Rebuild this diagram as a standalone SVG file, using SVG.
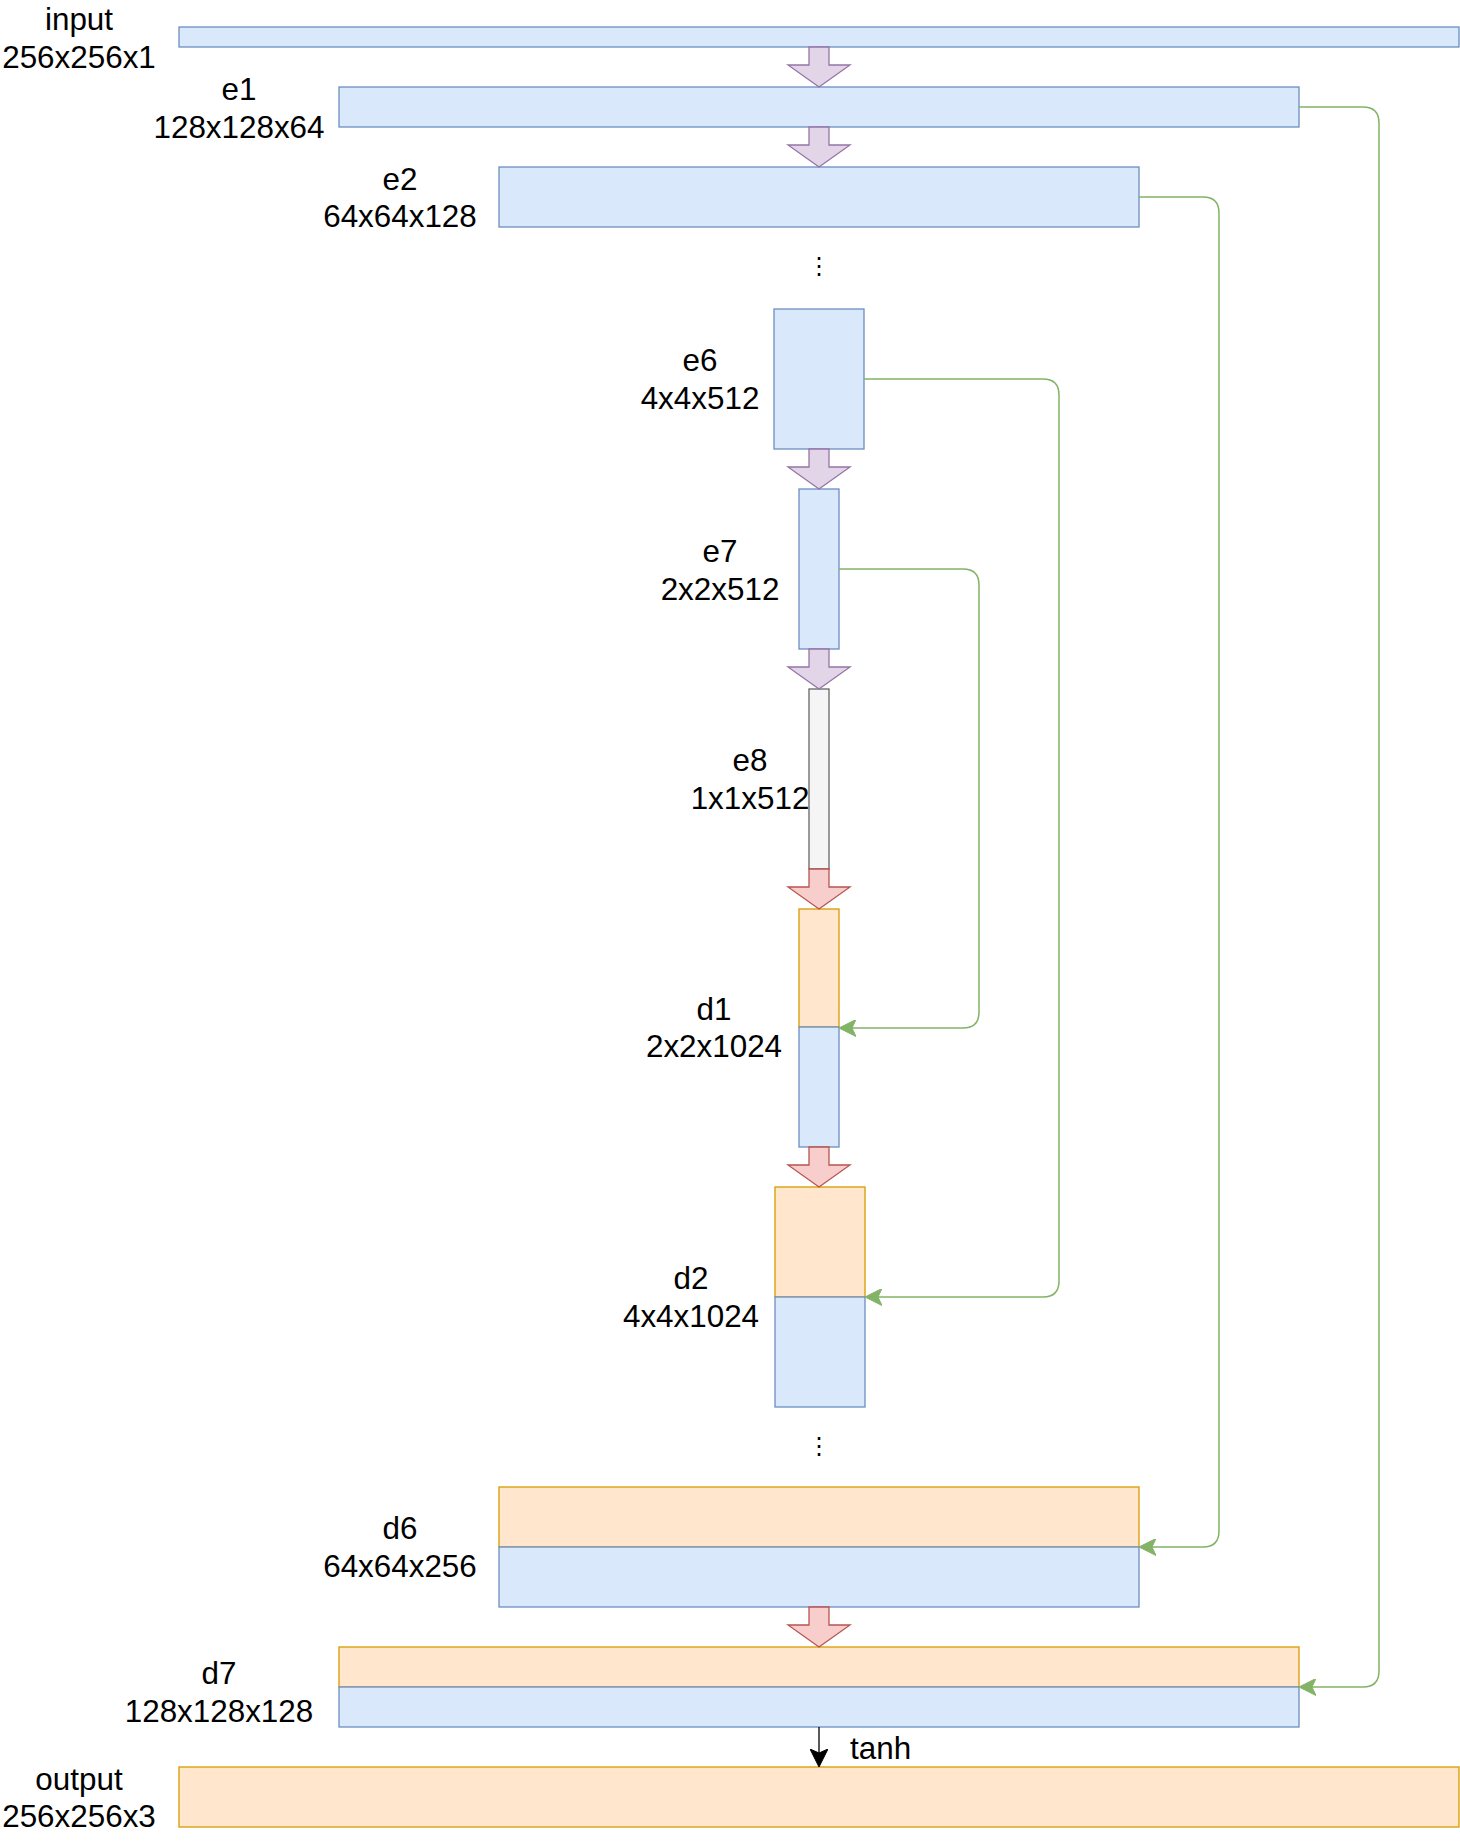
<svg xmlns="http://www.w3.org/2000/svg" width="1460" height="1842" viewBox="0 0 1460 1842">
<style>
.blue{fill:#dae8fc;stroke:#6c8ebf;stroke-width:1.3}
.orange{fill:#ffe6cc;stroke:#d79b00;stroke-width:1.3}
.gray{fill:#f5f5f5;stroke:#666666;stroke-width:1.3}
.lbl{font-family:"Liberation Sans",Arial,sans-serif;font-size:31.4px;fill:#000;text-anchor:middle}
.dots{font-family:"DejaVu Sans",sans-serif;font-size:24px;fill:#000;text-anchor:middle}
.purple{fill:#e1d5e7;stroke:#9673a6;stroke-width:1.3;stroke-linejoin:miter}
.red{fill:#f8cecc;stroke:#b85450;stroke-width:1.3;stroke-linejoin:miter}
.skip{fill:none;stroke:#82b366;stroke-width:1.5}
</style>
<defs>
<marker id="ga" viewBox="0 0 17 17" refX="13" refY="8.5" markerWidth="17" markerHeight="17" markerUnits="userSpaceOnUse" orient="auto">
<path d="M17,8.5 L0,0 L4,8.5 L0,17 Z" fill="#82b366" stroke="#82b366" stroke-width="1"/>
</marker>
<marker id="ka" viewBox="0 0 18 18" refX="14" refY="9" markerWidth="18" markerHeight="18" markerUnits="userSpaceOnUse" orient="auto">
<path d="M18,9 L0,0 L4,9 L0,18 Z" fill="#000" stroke="#000" stroke-width="1"/>
</marker>
</defs>

<g id="input">
<rect class="blue" x="179" y="27" width="1280" height="20"/>
<text class="lbl"><tspan x="79" y="30">input</tspan><tspan x="79" y="67.5">256x256x1</tspan></text>
</g>
<g id="e1">
<rect class="blue" x="339" y="87" width="960" height="40"/>
<text class="lbl"><tspan x="239" y="100">e1</tspan><tspan x="239" y="137.5">128x128x64</tspan></text>
</g>
<g id="e2">
<rect class="blue" x="499" y="167" width="640" height="60"/>
<text class="lbl"><tspan x="400" y="190">e2</tspan><tspan x="400" y="227">64x64x128</tspan></text>
</g>
<g id="dots1">
<text class="dots" x="819" y="274">⋮</text>
</g>
<g id="e6">
<rect class="blue" x="774" y="309" width="90" height="140"/>
<text class="lbl"><tspan x="700" y="371">e6</tspan><tspan x="700" y="409">4x4x512</tspan></text>
</g>
<g id="e7">
<rect class="blue" x="799" y="489" width="40" height="160"/>
<text class="lbl"><tspan x="720" y="562">e7</tspan><tspan x="720" y="599.5">2x2x512</tspan></text>
</g>
<g id="e8">
<rect class="gray" x="809" y="689" width="20" height="180"/>
<text class="lbl"><tspan x="750" y="771">e8</tspan><tspan x="750" y="809">1x1x512</tspan></text>
</g>
<g id="d1">
<rect class="orange" x="799" y="909" width="40" height="118"/>
<rect class="blue" x="799" y="1027" width="40" height="120"/>
<text class="lbl"><tspan x="714" y="1019.5">d1</tspan><tspan x="714" y="1057">2x2x1024</tspan></text>
</g>
<g id="d2">
<rect class="orange" x="775" y="1187" width="90" height="110"/>
<rect class="blue" x="775" y="1297" width="90" height="110"/>
<text class="lbl"><tspan x="691" y="1288.5">d2</tspan><tspan x="691" y="1326.5">4x4x1024</tspan></text>
</g>
<g id="dots2">
<text class="dots" x="819" y="1454">⋮</text>
</g>
<g id="d6">
<rect class="orange" x="499" y="1487" width="640" height="60"/>
<rect class="blue" x="499" y="1547" width="640" height="60"/>
<text class="lbl"><tspan x="400" y="1539">d6</tspan><tspan x="400" y="1576.5">64x64x256</tspan></text>
</g>
<g id="d7">
<rect class="orange" x="339" y="1647" width="960" height="40"/>
<rect class="blue" x="339" y="1687" width="960" height="40"/>
<text class="lbl"><tspan x="219" y="1683.5">d7</tspan><tspan x="219" y="1721.5">128x128x128</tspan></text>
</g>
<g id="output">
<rect class="orange" x="179" y="1767" width="1280" height="60"/>
<text class="lbl"><tspan x="79" y="1789.5">output</tspan><tspan x="79" y="1826.5">256x256x3</tspan></text>
</g>

<g id="connectors">
<polygon class="purple" points="809,47 829,47 829,65 850,65 819,87 788,65 809,65"/>
<polygon class="purple" points="809,127 829,127 829,145 850,145 819,167 788,145 809,145"/>
<polygon class="purple" points="809,449 829,449 829,467 850,467 819,489 788,467 809,467"/>
<polygon class="purple" points="809,649 829,649 829,667 850,667 819,689 788,667 809,667"/>
<polygon class="red" points="809,869 829,869 829,887 850,887 819,909 788,887 809,887"/>
<polygon class="red" points="809,1147 829,1147 829,1165 850,1165 819,1187 788,1165 809,1165"/>
<polygon class="red" points="809,1607 829,1607 829,1625 850,1625 819,1647 788,1625 809,1625"/>
<path class="skip" d="M1299,107 H1363 Q1379,107 1379,123 V1671 Q1379,1687 1363,1687 H1303" marker-end="url(#ga)"/>
<path class="skip" d="M1139,197 H1203 Q1219,197 1219,213 V1531 Q1219,1547 1203,1547 H1143" marker-end="url(#ga)"/>
<path class="skip" d="M864,379 H1043 Q1059,379 1059,395 V1281 Q1059,1297 1043,1297 H869" marker-end="url(#ga)"/>
<path class="skip" d="M839,569 H963 Q979,569 979,585 V1012 Q979,1028 963,1028 H843" marker-end="url(#ga)"/>
<path d="M819,1727 V1763" fill="none" stroke="#000" stroke-width="1.3" marker-end="url(#ka)"/>
<text class="lbl" x="850" y="1759" style="text-anchor:start">tanh</text>
</g>
</svg>
